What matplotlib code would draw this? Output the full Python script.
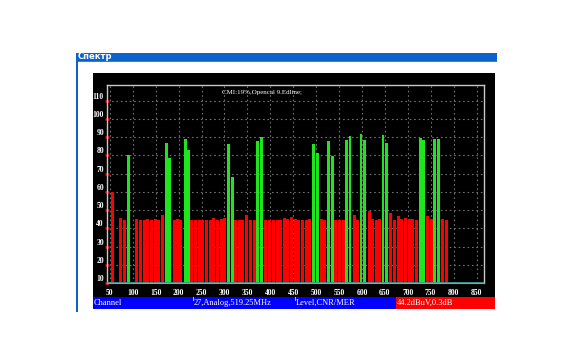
import numpy as np
import matplotlib.pyplot as plt
from matplotlib.patches import Rectangle
from matplotlib.transforms import ScaledTranslation

# channel frequency (MHz), level (dBuV), kind (R = digital/red, G = analog/green)
freqs = [56, 74, 82, 91, 109, 117, 125, 133, 141, 149, 157, 165, 173, 181, 190, 197,
         205, 214, 221, 229, 237, 245, 253, 261, 269, 277, 285, 293, 300, 309, 317, 324,
         333, 340, 348, 357, 366, 373, 381, 390, 398, 407, 415, 423, 430, 438, 446, 454,
         462, 470, 478, 486, 494, 502, 511, 519, 526, 535, 543, 551, 559, 567, 574, 583,
         591, 598, 606, 616, 623, 631, 639, 646, 654, 663, 671, 679, 687, 695, 703, 711,
         719, 727, 735, 744, 751, 759, 768, 776, 784]
levels = [60.0, 45.5, 44.5, 80.4, 44.9, 44.5, 44.5, 44.9, 44.3, 44.9, 44.4, 47.5, 86.9, 78.6, 44.4, 44.9,
          44.4, 88.9, 83.1, 44.5, 44.5, 44.5, 44.4, 44.7, 44.7, 45.5, 44.7, 45.1, 45.5, 86.4, 68.2, 44.4,
          44.4, 44.4, 47.1, 44.4, 44.4, 87.6, 90.2, 44.4, 44.5, 44.5, 44.4, 44.4, 45.5, 44.9, 46.0, 44.9,
          44.4, 44.4, 44.4, 44.9, 86.4, 81.5, 45.3, 44.4, 88.0, 79.8, 44.4, 44.4, 44.4, 88.6, 90.7, 47.1,
          44.4, 91.8, 88.6, 49.3, 44.9, 44.4, 44.9, 90.9, 86.9, 48.2, 44.4, 46.6, 44.9, 45.5, 44.9, 44.9,
          44.4, 89.7, 88.6, 46.6, 44.9, 89.1, 89.1, 44.9, 44.4]
kinds = list("RRRGRRRRRRRRGGRR" "RGGRRRRRRRRRRGGR" "RRRRRGGRRRRRRRRR"
             "RRRRGGRRGGRRRGGR" "RGGRRRRGGRRRRRRR" "RGGRRGGRR")

yticks = list(range(10, 111, 10))
xticks = list(range(50, 851, 50))
title = "Спектр"
note = "CMI:19%,Opencal 9.Edline;"
status = ["Channel", "27,Analog,519.25MHz", "Level,CNR/MER", "44.2dBuV,0.3dB"]

W, H = 574, 362
fig = plt.figure(figsize=(W / 100, H / 100), dpi=100)
fig.patch.set_facecolor("white")


def px_rect(x0, y0, x1, y1, color, z=-2):
    fig.patches.append(Rectangle((x0 / W, 1 - y1 / H), (x1 - x0) / W, (y1 - y0) / H,
                                 transform=fig.transFigure, color=color, zorder=z, lw=0))


def px_text(x, y, s, **kw):
    fig.text(x / W, 1 - y / H, s, **kw)


# window frame
px_rect(76, 52.7, 497, 60.7, "#0a64cc")
px_rect(76, 60.7, 497, 62, "#3a7ad8")
px_rect(76, 52.7, 77.5, 312, "#0a64cc")
px_text(78, 56.7, title, color="white", fontsize=6, fontweight="bold", va="center",
        family="DejaVu Sans")

# black instrument panel
px_rect(93, 73.3, 495, 297, "black")

# status bar
px_rect(93, 297, 396, 308.5, "#0000ff")
px_rect(396, 297, 495, 308.5, "#ff0000")
px_rect(93, 296.5, 495, 297.3, "#b0b0b0", z=-1)
for xs in (193, 295):
    px_rect(xs, 297, xs + 1, 301, "#c0c0c0", z=-1)
sfont = dict(color="white", fontsize=6, va="center", family="Liberation Serif")
for xs, s in zip((93.5, 193.5, 295.5, 396.5), status):
    px_text(xs, 303, s, **sfont)

ax = fig.add_axes([106.7 / W, 1 - 283 / H, (484.3 - 106.7) / W, (283 - 84.7) / H])
ax.set_zorder(2)
ax.set_facecolor("black")
ax.set_xlim(43, 867)
ax.set_ylim(10, 118.7)

for f, v, k in zip(freqs, levels, kinds):
    col = "#ff0000" if k == "R" else "#1ee61e"
    ax.bar(f, v - 10, bottom=10, width=6.4, color=col, linewidth=0, zorder=3)

ax.axhline(10, color="#3a9a9a", lw=2, zorder=4)

ax.set_xticks(xticks)
ax.set_yticks(yticks)
ax.set_xticklabels([str(t) for t in xticks])
ax.set_yticklabels([str(t) for t in yticks])
ax.grid(True, color="#707070", linestyle=(0, (1.5, 2.5)), linewidth=0.8, zorder=1)
ax.tick_params(axis="x", length=0, pad=4, labelcolor="white", labelsize=5.5)
ax.tick_params(axis="y", length=3, width=1.8, color="red", direction="inout", pad=0.5,
               labelcolor="white", labelsize=5.5)
for lab in ax.get_xticklabels() + ax.get_yticklabels():
    lab.set_family("Liberation Serif")
    lab.set_fontweight("bold")
for lab in ax.get_yticklabels():
    lab.set_transform(lab.get_transform() + ScaledTranslation(0, 5 / 100, fig.dpi_scale_trans))

for side in ("top", "right", "left"):
    ax.spines[side].set_color("#c8c8c8")
    ax.spines[side].set_linewidth(1)
ax.spines["bottom"].set_color("#9aa0a0")

ax.text(261.7 / W, 1 - 92.7 / H, note, transform=fig.transFigure, color="white",
        fontsize=5, ha="center", va="center", family="Liberation Serif", zorder=5)

fig.savefig("out.png", dpi=100, facecolor="white")
